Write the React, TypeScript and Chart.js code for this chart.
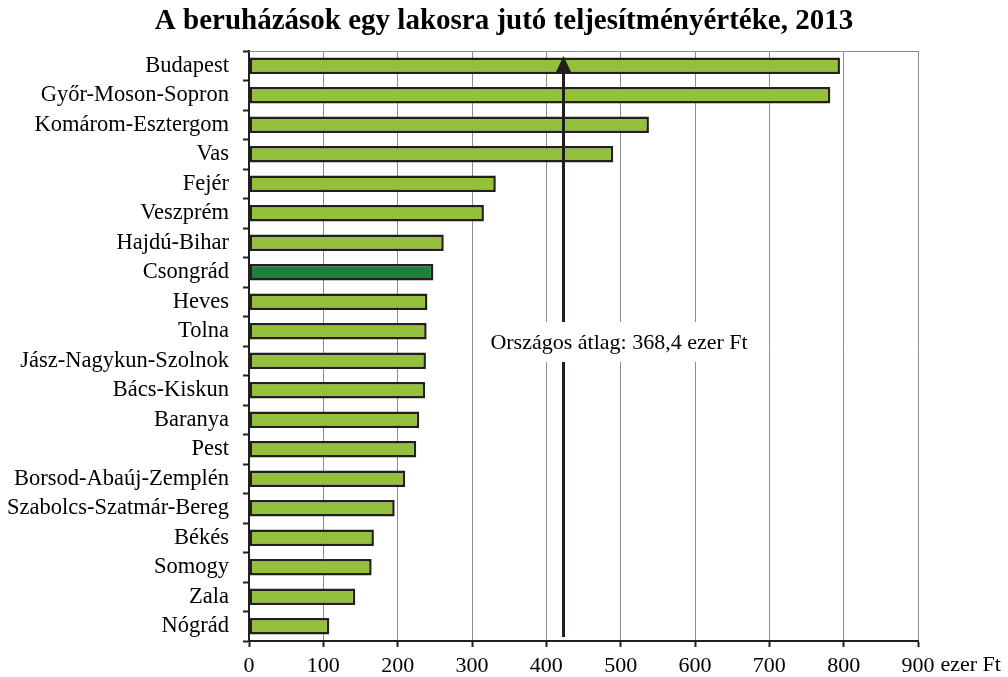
import React, { useEffect, useRef } from "react";
import { Chart, registerables } from "chart.js";

Chart.register(...registerables);

const TITLE = "A beruházások egy lakosra jutó teljesítményértéke, 2013";
const categories = [
  "Budapest", "Győr-Moson-Sopron", "Komárom-Esztergom", "Vas", "Fejér", "Veszprém",
  "Hajdú-Bihar", "Csongrád", "Heves", "Tolna", "Jász-Nagykun-Szolnok", "Bács-Kiskun",
  "Baranya", "Pest", "Borsod-Abaúj-Zemplén", "Szabolcs-Szatmár-Bereg", "Békés",
  "Somogy", "Zala", "Nógrád",
];
const values = [795, 782, 538, 490, 332, 316, 262, 248, 240, 239, 238, 237, 229, 225, 210, 196, 168, 165, 143, 108];
const highlighted = ["Csongrád"];
const xTicks = [0, 100, 200, 300, 400, 500, 600, 700, 800, 900];
const unitLabel = "ezer Ft";
const averageLabel = "Országos átlag: 368,4 ezer Ft";
const arrowValue = 422;

const FONT = "'Liberation Serif', 'Times New Roman', serif";
const LIGHT = "#93c13b";
const DARK = "#217f3d";
const INK = "#231f20";

const overlay = {
  id: "overlay",
  afterDraw(chart: any) {
    const { ctx, chartArea, scales } = chart;
    const x = scales.x;
    ctx.save();
    // title
    ctx.fillStyle = "#000";
    ctx.font = `bold 29px ${FONT}`;
    ctx.textAlign = "center";
    ctx.textBaseline = "middle";
    ctx.fillText(TITLE, 504, 22);
    // top border
    ctx.strokeStyle = "#8c8c8c";
    ctx.lineWidth = 1;
    ctx.beginPath();
    ctx.moveTo(chartArea.left, chartArea.top + 0.5);
    ctx.lineTo(chartArea.right, chartArea.top + 0.5);
    ctx.stroke();
    // unit label after last tick
    ctx.font = `22px ${FONT}`;
    ctx.textAlign = "left";
    ctx.fillStyle = "#000";
    const last = xTicks[xTicks.length - 1];
    const lw = ctx.measureText(String(last)).width;
    ctx.textBaseline = "middle";
    ctx.fillText(unitLabel, x.getPixelForValue(last) + lw / 2 + 6, 665);
    // arrow
    const ax = Math.round(x.getPixelForValue(arrowValue)) + 0.5;
    const top = chartArea.top + 5;
    ctx.strokeStyle = INK;
    ctx.fillStyle = INK;
    ctx.lineWidth = 3;
    ctx.beginPath();
    ctx.moveTo(ax, chartArea.bottom - 4);
    ctx.lineTo(ax, top + 12);
    ctx.stroke();
    ctx.beginPath();
    ctx.moveTo(ax, top);
    ctx.lineTo(ax - 7.5, top + 16);
    ctx.lineTo(ax + 7.5, top + 16);
    ctx.closePath();
    ctx.fill();
    // label box
    ctx.font = `22px ${FONT}`;
    const tw = ctx.measureText(averageLabel).width;
    const cx = 619;
    const cy = 342;
    ctx.fillStyle = "#fff";
    ctx.fillRect(cx - tw / 2 - 8, cy - 20, tw + 16, 40);
    ctx.fillStyle = "#000";
    ctx.textAlign = "center";
    ctx.fillText(averageLabel, cx, cy + 1);
    ctx.restore();
  },
};

export default function App() {
  const ref = useRef<HTMLCanvasElement>(null);
  useEffect(() => {
    const chart = new Chart(ref.current!, {
      type: "bar",
      data: {
        labels: categories,
        datasets: [
          {
            data: values,
            backgroundColor: categories.map((c) => (highlighted.includes(c) ? DARK : LIGHT)),
            borderColor: INK,
            borderWidth: 2.5,
            borderSkipped: false,
            barPercentage: 0.56,
            categoryPercentage: 1,
          },
        ],
      },
      options: {
        indexAxis: "y",
        responsive: false,
        animation: false,
        layout: { padding: { top: 51, right: 90, left: 0, bottom: 0 } },
        plugins: { legend: { display: false }, title: { display: false }, tooltip: { enabled: false } },
        scales: {
          x: {
            min: 0,
            max: 900,
            afterBuildTicks: (s: any) => {
              s.ticks = xTicks.map((v) => ({ value: v }));
            },
            afterFit: (s: any) => {
              s.height = 36;
            },
            ticks: { color: "#000", font: { family: FONT, size: 22 }, padding: 6, maxRotation: 0, autoSkip: false },
            grid: { color: "#8c8c8c", lineWidth: 1, tickColor: INK, tickLength: 6, tickWidth: 2 },
            border: { color: INK, width: 2 },
          },
          y: {
            offset: true,
            afterFit: (s: any) => {
              s.width = 249;
            },
            ticks: { color: "#000", font: { family: FONT, size: 22.5 }, padding: 14, autoSkip: false },
            grid: { drawOnChartArea: false, tickColor: INK, tickLength: 6, tickWidth: 2, offset: true },
            border: { color: INK, width: 2 },
          },
        },
      },
      plugins: [overlay],
    });
    return () => chart.destroy();
  }, []);
  return (
    <div style={{ position: "absolute", left: 0, top: 0, width: 1008, height: 677 }}>
      <canvas ref={ref} width={1008} height={677} />
    </div>
  );
}
